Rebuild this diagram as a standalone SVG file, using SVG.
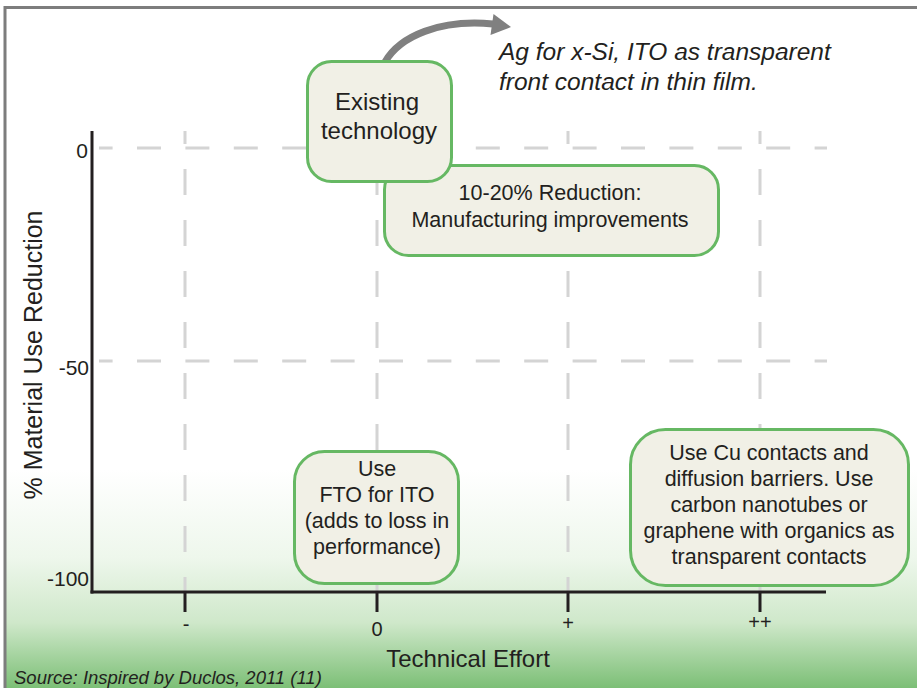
<svg xmlns="http://www.w3.org/2000/svg" width="917" height="688" viewBox="0 0 917 688">
<defs>
<linearGradient id="bg" x1="0" y1="470" x2="0" y2="688" gradientUnits="userSpaceOnUse">
<stop offset="0" stop-color="#ffffff"/>
<stop offset="0.4" stop-color="#eef7ec"/>
<stop offset="0.7" stop-color="#cfe8ca"/>
<stop offset="1" stop-color="#7cbf76"/>
</linearGradient>
<style>
text{font-family:"Liberation Sans",Arial,sans-serif;fill:#231f20}
.box{fill:#f1f0e6;stroke:#66b863;stroke-width:3}
.lbl{font-size:21.5px;text-anchor:middle}
.gv{stroke:#d4d4d4;stroke-width:3;stroke-dasharray:26 25;stroke-dashoffset:13;fill:none}
.gh{stroke:#d4d4d4;stroke-width:3;stroke-dasharray:24 24.4;stroke-dashoffset:10.4;fill:none}
.ax{stroke:#231f20;stroke-width:3;fill:none}
.yl{font-size:21px;text-anchor:end}
.xl{font-size:20px;text-anchor:middle}
</style>
</defs>
<rect x="0" y="0" width="917" height="688" fill="#ffffff"/>
<rect x="5" y="470" width="912" height="218" fill="url(#bg)"/>
<rect x="5" y="7.5" width="930" height="700" fill="none" stroke="#7d7d7d" stroke-width="3"/>

<g id="grid">
<line class="gv" x1="185" y1="131" x2="185" y2="592"/>
<line class="gv" x1="377" y1="131" x2="377" y2="592"/>
<line class="gv" x1="568" y1="131" x2="568" y2="592"/>
<line class="gv" x1="760" y1="131" x2="760" y2="592"/>
<line class="gh" x1="99" y1="148" x2="827" y2="148"/>
<line class="gh" x1="99" y1="361" x2="827" y2="361"/>
</g>

<g id="axes">
<line class="ax" x1="92" y1="131" x2="92" y2="593.5"/>
<line class="ax" x1="90.5" y1="592" x2="826" y2="592"/>
<line class="ax" x1="185" y1="592" x2="185" y2="612"/>
<line class="ax" x1="377" y1="592" x2="377" y2="612"/>
<line class="ax" x1="568" y1="592" x2="568" y2="612"/>
<line class="ax" x1="760" y1="592" x2="760" y2="612"/>
<text class="yl" x="88" y="158">0</text>
<text class="yl" x="89" y="375">-50</text>
<text class="yl" x="89" y="586">-100</text>
<text class="xl" x="186" y="631">-</text>
<text class="xl" x="377" y="636">0</text>
<text class="xl" x="568" y="630">+</text>
<text class="xl" x="760" y="629">++</text>
<text x="468" y="667" font-size="24" text-anchor="middle">Technical Effort</text>
<text transform="translate(42,355) rotate(-90)" font-size="25" text-anchor="middle">% Material Use Reduction</text>
</g>

<g id="connectors">
<path d="M385,62 C400,36 440,19 493,24" fill="none" stroke="#808080" stroke-width="7"/>
<polygon points="493.5,14 511,27 490.5,35" fill="#808080"/>
</g>

<g id="node-reduction">
<rect class="box" x="384.5" y="165.5" width="334" height="90" rx="24"/>
<text class="lbl" x="550" y="200">10-20% Reduction:</text>
<text class="lbl" x="550" y="227">Manufacturing improvements</text>
</g>

<g id="node-existing">
<rect class="box" x="307.5" y="61.5" width="144" height="120" rx="24"/>
<text x="377" y="110" font-size="24" text-anchor="middle">Existing</text>
<text x="379" y="139" font-size="24" text-anchor="middle">technology</text>
</g>

<g id="node-fto">
<rect class="box" x="294.5" y="451.5" width="164" height="132" rx="30"/>
<text class="lbl" x="377" y="476">Use</text>
<text class="lbl" x="377" y="502">FTO for ITO</text>
<text class="lbl" x="377" y="528">(adds to loss in</text>
<text class="lbl" x="377" y="554">performance)</text>
</g>

<g id="node-cu">
<rect class="box" x="630.5" y="429.5" width="278" height="156" rx="35"/>
<text class="lbl" x="769" y="460">Use Cu contacts and</text>
<text class="lbl" x="769" y="486">diffusion barriers. Use</text>
<text class="lbl" x="769" y="512">carbon nanotubes or</text>
<text class="lbl" x="769" y="538">graphene with organics as</text>
<text class="lbl" x="769" y="564">transparent contacts</text>
</g>

<g id="note">
<text x="499" y="60" font-size="24.5" font-style="italic">Ag for x-Si, ITO as transparent</text>
<text x="499" y="90" font-size="24.5" font-style="italic">front contact in thin film.</text>
</g>

<text x="14" y="684" font-size="18.5" font-style="italic">Source: Inspired by Duclos, 2011 (11)</text>
</svg>
